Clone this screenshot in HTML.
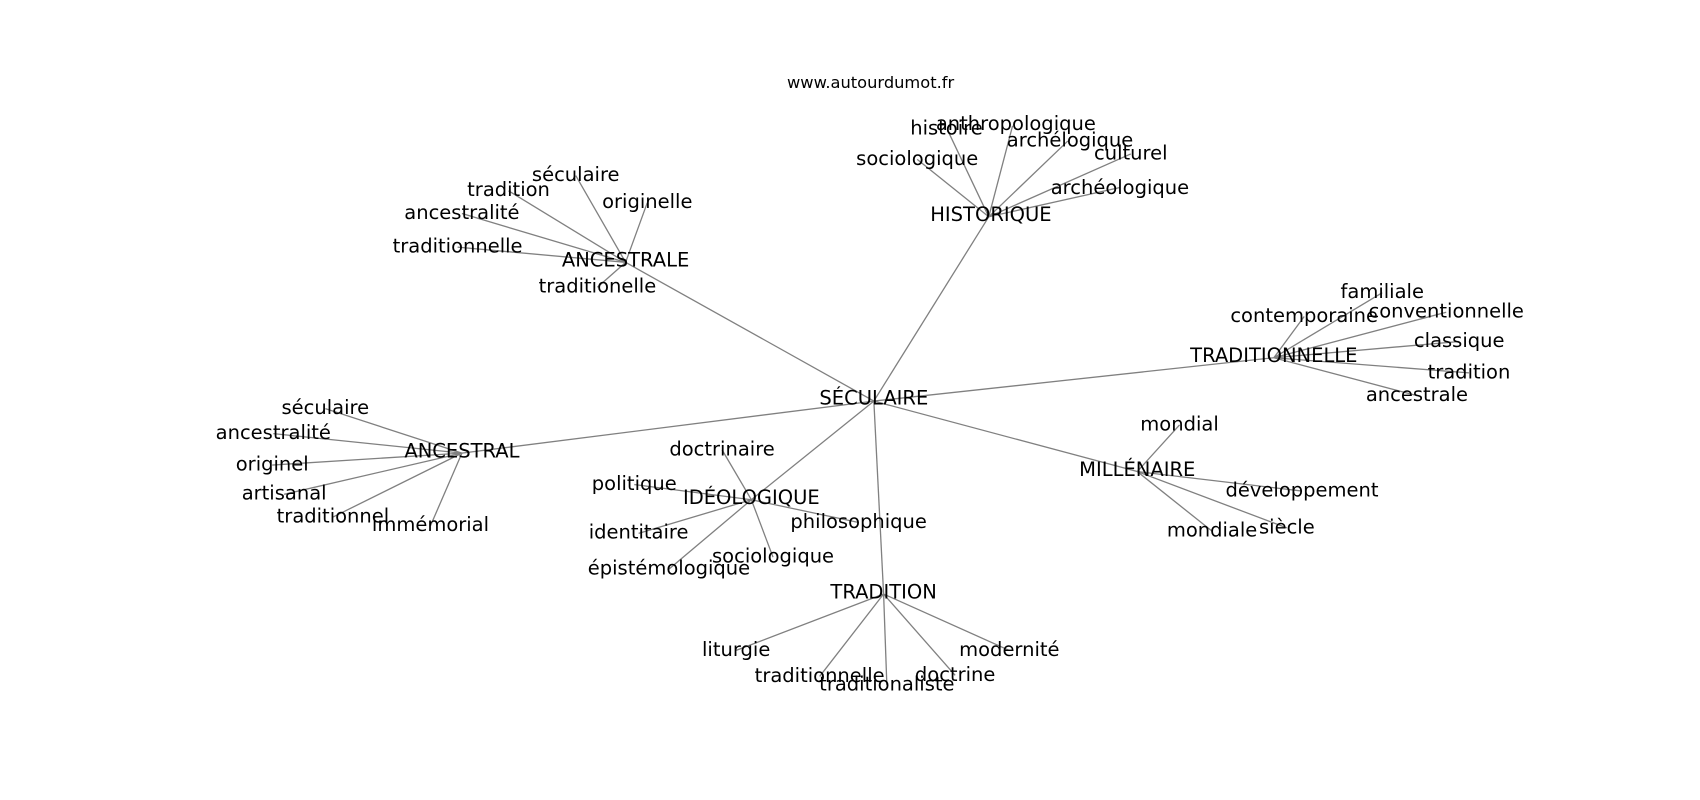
<!DOCTYPE html>
<html><head><meta charset="utf-8"><style>
html,body{margin:0;padding:0;background:#fff;}
svg{display:block;}
text{font-family:"DejaVu Sans","Liberation Sans",sans-serif;font-size:18px;fill:#000;text-anchor:middle;dominant-baseline:central;}
line{stroke:#808080;stroke-width:1.2;}
</style></head><body>
<svg width="1700" height="800" viewBox="0 0 1568 738" xmlns="http://www.w3.org/2000/svg">
<g>
<line x1="806" y1="370" x2="912" y2="200"/>
<line x1="806" y1="370" x2="577" y2="242"/>
<line x1="806" y1="370" x2="1175" y2="330"/>
<line x1="806" y1="370" x2="426" y2="418"/>
<line x1="806" y1="370" x2="693" y2="461"/>
<line x1="806" y1="370" x2="1049" y2="435"/>
<line x1="806" y1="370" x2="815" y2="548"/>

<line x1="912" y1="200" x2="874" y2="120"/>
<line x1="912" y1="200" x2="934" y2="116"/>
<line x1="912" y1="200" x2="985" y2="130"/>
<line x1="912" y1="200" x2="1043" y2="142"/>
<line x1="912" y1="200" x2="1033" y2="173"/>
<line x1="912" y1="200" x2="846" y2="147"/>

<line x1="577" y1="242" x2="531" y2="162"/>
<line x1="577" y1="242" x2="469" y2="176"/>
<line x1="577" y1="242" x2="426" y2="197"/>
<line x1="577" y1="242" x2="422" y2="228"/>
<line x1="577" y1="242" x2="551" y2="265"/>
<line x1="577" y1="242" x2="597" y2="187"/>

<line x1="1175" y1="330" x2="1275" y2="270"/>
<line x1="1175" y1="330" x2="1203" y2="292"/>
<line x1="1175" y1="330" x2="1334" y2="288"/>
<line x1="1175" y1="330" x2="1346" y2="315"/>
<line x1="1175" y1="330" x2="1355" y2="344"/>
<line x1="1175" y1="330" x2="1307" y2="365"/>

<line x1="426" y1="418" x2="300" y2="377"/>
<line x1="426" y1="418" x2="252" y2="400"/>
<line x1="426" y1="418" x2="251" y2="429"/>
<line x1="426" y1="418" x2="262" y2="456"/>
<line x1="426" y1="418" x2="307" y2="477"/>
<line x1="426" y1="418" x2="397" y2="485"/>

<line x1="693" y1="461" x2="666" y2="415"/>
<line x1="693" y1="461" x2="585" y2="447"/>
<line x1="693" y1="461" x2="589" y2="492"/>
<line x1="693" y1="461" x2="617" y2="525"/>
<line x1="693" y1="461" x2="713" y2="514"/>
<line x1="693" y1="461" x2="792" y2="482"/>

<line x1="1049" y1="435" x2="1088" y2="392"/>
<line x1="1049" y1="435" x2="1201" y2="453"/>
<line x1="1049" y1="435" x2="1187" y2="487"/>
<line x1="1049" y1="435" x2="1118" y2="490"/>

<line x1="815" y1="548" x2="679" y2="600"/>
<line x1="815" y1="548" x2="756" y2="624"/>
<line x1="815" y1="548" x2="818" y2="632"/>
<line x1="815" y1="548" x2="881" y2="623"/>
<line x1="815" y1="548" x2="931" y2="600"/>
</g>
<g>
<text x="803" y="76" style="font-size:15px">www.autourdumot.fr</text>
<text x="806" y="367">SÉCULAIRE</text>
<text x="914" y="198">HISTORIQUE</text>
<text x="873" y="118">histoire</text>
<text x="937" y="114">anthropologique</text>
<text x="987" y="129">archélogique</text>
<text x="1043" y="141">culturel</text>
<text x="1033" y="173">archéologique</text>
<text x="846" y="146">sociologique</text>

<text x="577" y="240">ANCESTRALE</text>
<text x="531" y="161">séculaire</text>
<text x="469" y="175">tradition</text>
<text x="426" y="196">ancestralité</text>
<text x="422" y="227">traditionnelle</text>
<text x="551" y="264">traditionelle</text>
<text x="597" y="186">originelle</text>

<text x="1175" y="328">TRADITIONNELLE</text>
<text x="1275" y="269">familiale</text>
<text x="1203" y="291">contemporaine</text>
<text x="1334" y="287">conventionnelle</text>
<text x="1346" y="314">classique</text>
<text x="1355" y="343">tradition</text>
<text x="1307" y="364">ancestrale</text>

<text x="426" y="416">ANCESTRAL</text>
<text x="300" y="376">séculaire</text>
<text x="252" y="399">ancestralité</text>
<text x="251" y="428">originel</text>
<text x="262" y="455">artisanal</text>
<text x="307" y="476">traditionnel</text>
<text x="397" y="484">immémorial</text>

<text x="693" y="459">IDÉOLOGIQUE</text>
<text x="666" y="414">doctrinaire</text>
<text x="585" y="446">politique</text>
<text x="589" y="491">identitaire</text>
<text x="617" y="524">épistémologique</text>
<text x="713" y="513">sociologique</text>
<text x="792" y="481">philosophique</text>

<text x="1049" y="433">MILLÉNAIRE</text>
<text x="1088" y="391">mondial</text>
<text x="1201" y="452">développement</text>
<text x="1187" y="486">siècle</text>
<text x="1118" y="489">mondiale</text>

<text x="815" y="546">TRADITION</text>
<text x="679" y="599">liturgie</text>
<text x="756" y="623">traditionnelle</text>
<text x="818" y="631">traditionaliste</text>
<text x="881" y="622">doctrine</text>
<text x="931" y="599">modernité</text>
</g>
</svg>
</body></html>
